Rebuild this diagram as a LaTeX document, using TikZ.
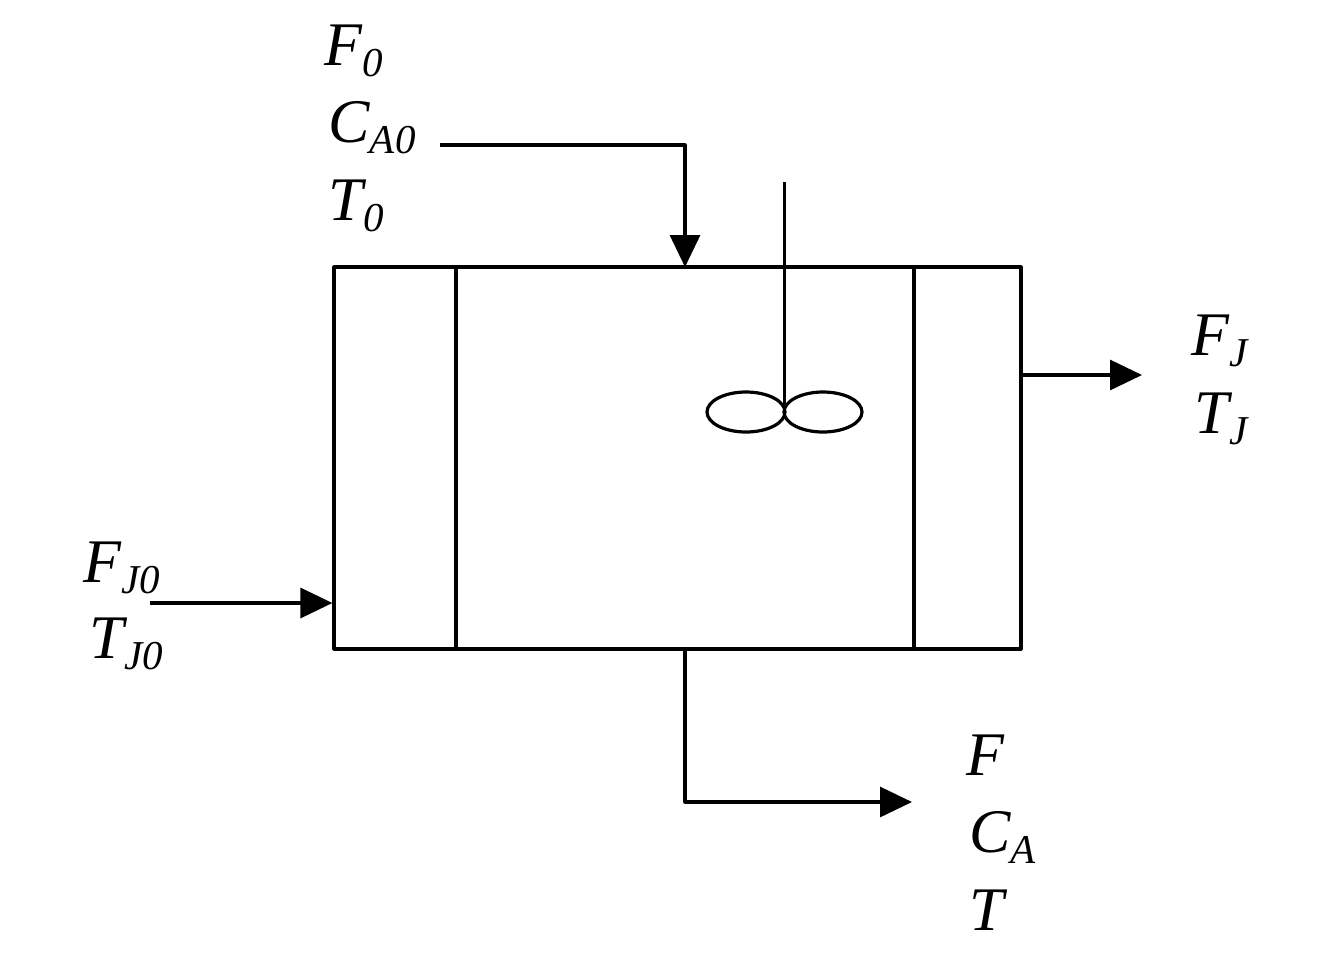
\documentclass[tikz,border=0pt]{standalone}
\usepackage{fontspec}
\setmainfont{Liberation Serif}
\usetikzlibrary{arrows.meta}
\newcommand{\sub}[1]{\raisebox{-5.5pt}{\fontsize{20.5pt}{20.5pt}\selectfont\itshape #1}}
\begin{document}
\begin{tikzpicture}[line join=round, line width=1.6pt, x=0.5pt, y=-0.5pt,
	font=\fontsize{31pt}{38pt}\selectfont\itshape, >={Triangle[length=16pt,width=15pt]}]
	\tikzset{lbl/.style={anchor=base west, inner sep=0pt}}
	\useasboundingbox (0,0) rectangle (1344,960);
	% vessel and jacket
	\node[draw, inner sep=0pt, minimum width=343.5pt, minimum height=191pt] (tank) at (677.5,458) {};
	\draw (456,267)--(456,649) (914,267)--(914,649);
	% stirrer
	\draw (784.5,182)--(784.5,410);
	\draw (746,412) ellipse [x radius=39, y radius=20] (823,412) ellipse [x radius=39, y radius=20];
	% streams
	\coordinate (feed) at (440,145);
	\coordinate (feedin) at (685,267);
	\coordinate (jin) at (150,603);
	\coordinate (jout) at (1142,375);
	\coordinate (prodout) at (685,649);
	\coordinate (prod) at (912,802);
	\draw[->] (feed) -| (feedin);
	\draw[->] (jin) -- (jin -| tank.west);
	\draw[->] (jout -| tank.east) -- (jout);
	\draw[->] (prodout) |- (prod);
	% labels
	\node[lbl] (F0) at (323,65) {F\sub{0}};
	\node[lbl] (CA0) at (327,142) {C\sub{A0}};
	\node[lbl] (T0) at (327,220) {T\sub{0}};
	\node[lbl] (FJ) at (1190,355) {F\sub{J}};
	\node[lbl] (TJ) at (1193,433) {T\sub{J}};
	\node[lbl] (FJ0) at (82,582) {F\sub{J0}};
	\node[lbl] (TJ0) at (88,658) {T\sub{J0}};
	\node[lbl] (F) at (965,775) {F};
	\node[lbl] (CA) at (968,852) {C\sub{A}};
	\node[lbl] (T) at (968,930) {T};
\end{tikzpicture}
\end{document}
